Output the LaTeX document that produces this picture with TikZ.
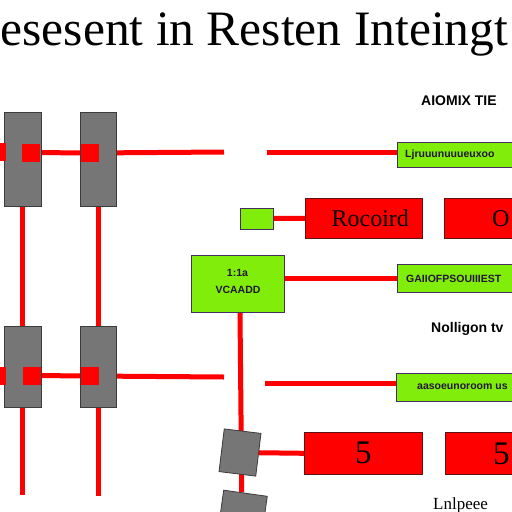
\documentclass[tikz,border=0pt]{standalone}
\usepackage{fontspec}
\setmainfont{Liberation Serif}
\newfontfamily\sansf{Liberation Sans}
\usetikzlibrary{backgrounds}
\definecolor{gfill}{RGB}{118,118,118}
\definecolor{gline}{RGB}{60,60,60}
\definecolor{lime}{RGB}{128,238,10}
\definecolor{lline}{RGB}{70,45,100}
\definecolor{rfill}{RGB}{255,0,0}
\definecolor{rline}{RGB}{90,20,20}
\begin{document}
\begin{tikzpicture}[x=1pt,y=-1pt,
  gbox/.style={draw=gline,fill=gfill,line width=0.8pt,inner sep=0pt},
  rsq/.style={fill=rfill,inner sep=0pt,minimum width=18pt,minimum height=18pt},
  lbox/.style={draw=lline,fill=lime,line width=1pt,inner sep=0pt},
  rbox/.style={draw=rline,fill=rfill,line width=0.6pt,inner sep=0pt},
  wire/.style={draw=rfill,line width=5pt},
  ltxt/.style={font=\sansf\bfseries\fontsize{10.5}{12}\selectfont,text=lline!50!black,inner sep=0pt},
  htxt/.style={font=\sansf\bfseries\fontsize{14}{14}\selectfont,inner sep=0pt,anchor=west}
]
\useasboundingbox (0,0) rectangle (512,512);
\clip (0,0) rectangle (512,512);
\begin{scope}[on background layer]
\fill[white] (0,0) rectangle (512,512);
\end{scope}

% title
\node[anchor=base west,inner sep=0pt,font=\fontsize{49.5}{50}\selectfont] (title) at (0.5,45) {esesent in Resten Inteingt};

% left gray boxes
\node[gbox,minimum width=37pt,minimum height=94pt] (ga) at (22.5,159) {};
\node[gbox,minimum width=36pt,minimum height=94pt] (gb) at (98.5,159) {};
\node[gbox,minimum width=37pt,minimum height=81pt] (gc) at (22.5,366.5) {};
\node[gbox,minimum width=36pt,minimum height=81pt] (gd) at (98.5,366.5) {};

% red squares
\node[rsq] (r0) at (-3,152) {};
\node[rsq] (r1) at (31,152.5) {};
\node[rsq] (r2) at (90,153) {};
\node[rsq] (r3) at (-3,375.5) {};
\node[rsq] (r4) at (32,375.5) {};
\node[rsq] (r5) at (90,376) {};

\coordinate (e1) at (224,152);
\coordinate (e2) at (224,377);
\coordinate (va) at (22.5,495);
\coordinate (vb) at (98.5,496);
\coordinate (s1) at (267,152);
\coordinate (s3) at (265,383);

% right part
\node[htxt] (h1) at (421,101) {AIOMIX TIE};
\node[lbox,minimum width=123pt,minimum height=25pt,anchor=north west] (g1) at (397,142) {};
\node[ltxt,anchor=west] (t1) at (405,155) {Ljruuunuuueuxoo};

\node[lbox,minimum width=33pt,minimum height=21pt,anchor=north west] (g2) at (239.5,207.5) {};
\node[rbox,minimum width=117pt,minimum height=40pt,anchor=north west,font=\fontsize{24}{24}\selectfont] (rc) at (305,198) {\hspace{13pt}Rocoird};
\node[rbox,minimum width=80pt,minimum height=40pt,anchor=north west] (rc2) at (443.5,198) {};
\node[font=\fontsize{24}{24}\selectfont,anchor=west,inner sep=0pt] (o1) at (492,219) {O};

\node[lbox,minimum width=93pt,minimum height=57pt,anchor=north west] (g3) at (191,255) {};
\node[ltxt] (t3a) at (237.5,273) {1:1a};
\node[ltxt] (t3b) at (238,290) {VCAADD};
\node[lbox,minimum width=123pt,minimum height=28pt,anchor=north west] (g4) at (397,264) {};
\node[ltxt,anchor=west] (t4) at (406,279) {GAIIOFPSOUIIIEST};

\node[htxt] (h2) at (431,329) {Nolligon tv};
\node[lbox,minimum width=123pt,minimum height=28pt,anchor=north west] (g5) at (396,373) {};
\node[ltxt,anchor=west] (t5) at (417,387) {aasoeunoroom us};

% tilted gray boxes
\node[gbox,minimum width=37pt,minimum height=43pt,rotate=-7] (k1) at (240,452.5) {};
\node[gbox,minimum width=44pt,minimum height=50pt,rotate=-8] (k2) at (242,518) {};

% bottom red boxes
\node[rbox,minimum width=118pt,minimum height=42pt,anchor=north west,font=\fontsize{33}{33}\selectfont] (r5b) at (304,432) {5\hspace{10pt}};
\node[rbox,minimum width=80pt,minimum height=42pt,anchor=north west] (r6b) at (444.5,432) {};
\node[font=\fontsize{33}{33}\selectfont,anchor=west,inner sep=0pt] (f2) at (493,454) {5};

\node[font=\fontsize{17}{17}\selectfont,anchor=base west,inner sep=0pt] (bt) at (433,509) {Lnlpeee};

% connectors
\begin{scope}[on background layer]
\draw[wire] (r1) -- (r2);
\draw[wire] (r2) -- (e1);
\draw[wire] (r4) -- (r5);
\draw[wire] (r5) -- (e2);
\draw[wire] (ga.south) -- (gc.north);
\draw[wire] (gb.south) -- (gd.north);
\draw[wire] (gc.south) -- (va);
\draw[wire] (gd.south) -- (vb);
\draw[wire] (s1) -- (s1 -| g1.west);
\draw[wire] (g2.east) -- (rc.west);
\draw[wire] (g4.west -| g3.east) -- (g4.west);
\draw[wire] (s3) -- (s3 -| g5.west);
\draw[wire] (g3.south -| k1) -- (k2);
\draw[wire] (k1) -- (r5b.west);
\end{scope}
\end{tikzpicture}
\end{document}
